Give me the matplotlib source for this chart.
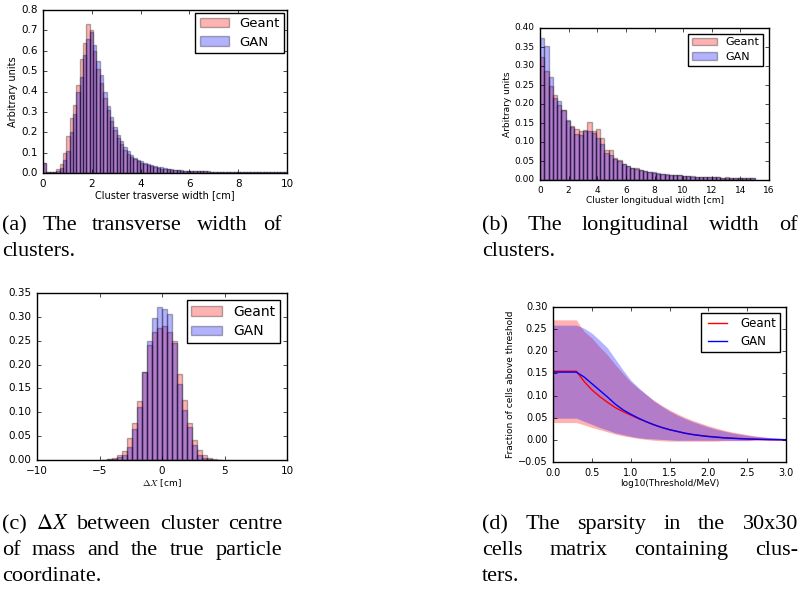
import numpy as np
import matplotlib
matplotlib.use('Agg')
from matplotlib import pyplot as plt

# (a) transverse width, 73 bins over 0-10 cm
trans_edges = np.linspace(0, 10, 74)
trans_geant = [0.05, 0.004, 0.004, 0.005, 0.02, 0.045, 0.10, 0.18, 0.27, 0.335,
               0.43, 0.56, 0.64, 0.73, 0.70, 0.60, 0.51, 0.44, 0.37, 0.31,
               0.255, 0.21, 0.17, 0.14, 0.115, 0.095, 0.08, 0.068, 0.057, 0.048,
               0.042, 0.037, 0.033, 0.028, 0.025, 0.022, 0.02, 0.018, 0.016, 0.015,
               0.013, 0.012, 0.011, 0.010, 0.009, 0.009, 0.008, 0.008, 0.008, 0.007,
               0.007, 0.007, 0.007, 0.006, 0.006, 0.006, 0.006, 0.006, 0.005, 0.006,
               0.005, 0.005, 0.005, 0.005, 0.005, 0.004, 0.005, 0.004, 0.004, 0.004,
               0.004, 0.004, 0.004]
trans_gan = [0.05, 0.003, 0.003, 0.004, 0.01, 0.025, 0.065, 0.11, 0.20, 0.29,
             0.40, 0.47, 0.58, 0.66, 0.69, 0.63, 0.55, 0.48, 0.40, 0.33,
             0.275, 0.225, 0.185, 0.155, 0.13, 0.11, 0.09, 0.075, 0.065, 0.058,
             0.05, 0.045, 0.04, 0.035, 0.03, 0.028, 0.024, 0.022, 0.02, 0.017,
             0.015, 0.013, 0.012, 0.011, 0.01, 0.009, 0.009, 0.008, 0.008, 0.008,
             0.007, 0.007, 0.006, 0.007, 0.006, 0.006, 0.005, 0.006, 0.005, 0.005,
             0.005, 0.005, 0.004, 0.005, 0.004, 0.004, 0.004, 0.004, 0.004, 0.003,
             0.004, 0.003, 0.003]

# (b) longitudinal width, 50 bins over 0-15 cm
long_edges = np.linspace(0, 15, 51)
long_geant = [0.325, 0.287, 0.248, 0.225, 0.198, 0.185, 0.155, 0.142, 0.135, 0.128,
              0.132, 0.152, 0.13, 0.135, 0.11, 0.08, 0.078, 0.057, 0.052, 0.043,
              0.037, 0.031, 0.031, 0.027, 0.025, 0.022, 0.019, 0.017, 0.016, 0.014,
              0.013, 0.014, 0.013, 0.010, 0.010, 0.009, 0.009, 0.008, 0.007, 0.007,
              0.008, 0.007, 0.006, 0.007, 0.006, 0.005, 0.006, 0.005, 0.005, 0.004]
long_gan = [0.375, 0.352, 0.27, 0.215, 0.208, 0.185, 0.158, 0.14, 0.12, 0.118,
            0.13, 0.128, 0.125, 0.11, 0.095, 0.072, 0.065, 0.055, 0.05, 0.042,
            0.037, 0.032, 0.03, 0.027, 0.025, 0.022, 0.02, 0.018, 0.016, 0.015,
            0.013, 0.013, 0.012, 0.011, 0.01, 0.01, 0.009, 0.008, 0.008, 0.007,
            0.007, 0.007, 0.006, 0.006, 0.006, 0.005, 0.005, 0.005, 0.005, 0.004]

# (c) delta X, bins of 0.4 cm over -4.8..4.8
dx_edges = np.linspace(-4.8, 4.8, 25)
dx_geant = [0.001, 0.002, 0.004, 0.011, 0.019, 0.047, 0.078, 0.124, 0.185, 0.241,
            0.269, 0.276, 0.281, 0.269, 0.25, 0.18, 0.126, 0.078, 0.042, 0.022,
            0.01, 0.004, 0.002, 0.001]
dx_gan = [0.0005, 0.002, 0.003, 0.006, 0.01, 0.028, 0.066, 0.112, 0.185, 0.25,
          0.297, 0.32, 0.316, 0.307, 0.246, 0.16, 0.105, 0.07, 0.031, 0.01,
          0.004, 0.002, 0.001, 0.0005]

# (d) sparsity vs threshold
thr = np.round(np.arange(0, 3.01, 0.1), 1)
sp_geant = [0.155, 0.155, 0.155, 0.155, 0.132, 0.113, 0.098, 0.085, 0.073, 0.064,
            0.056, 0.048, 0.041, 0.034, 0.028, 0.023, 0.019, 0.015, 0.012, 0.010,
            0.008, 0.0065, 0.005, 0.004, 0.003, 0.0022, 0.0016, 0.0011, 0.0007, 0.0004,
            0.0002]
sp_geant_hi = [0.271, 0.271, 0.271, 0.271, 0.245, 0.23, 0.21, 0.192, 0.17, 0.15,
               0.131, 0.116, 0.102, 0.089, 0.078, 0.068, 0.059, 0.051, 0.044, 0.038,
               0.032, 0.027, 0.022, 0.018, 0.015, 0.012, 0.009, 0.007, 0.005, 0.004,
               0.003]
sp_geant_lo = [0.039, 0.039, 0.039, 0.039, 0.034, 0.028, 0.023, 0.018, 0.013, 0.009,
               0.006, 0.003, 0.001, -0.001, -0.002, -0.003, -0.003, -0.003, -0.003, -0.003,
               -0.003, -0.003, -0.002, -0.002, -0.002, -0.002, -0.001, -0.001, -0.001, -0.001,
               -0.001]
sp_gan = [0.153, 0.153, 0.153, 0.153, 0.142, 0.127, 0.112, 0.097, 0.081, 0.068,
          0.058, 0.049, 0.041, 0.034, 0.028, 0.023, 0.019, 0.015, 0.012, 0.0095,
          0.0075, 0.006, 0.0045, 0.0035, 0.0027, 0.002, 0.0015, 0.001, 0.0006, 0.0004,
          0.0002]
sp_gan_hi = [0.259, 0.259, 0.259, 0.259, 0.252, 0.241, 0.225, 0.208, 0.183, 0.158,
             0.135, 0.118, 0.103, 0.088, 0.076, 0.065, 0.056, 0.048, 0.041, 0.035,
             0.029, 0.024, 0.02, 0.016, 0.013, 0.01, 0.008, 0.006, 0.005, 0.004,
             0.003]
sp_gan_lo = [0.049, 0.049, 0.049, 0.049, 0.042, 0.035, 0.028, 0.022, 0.016, 0.012,
             0.008, 0.005, 0.003, 0.002, 0.001, 0.0, -0.001, -0.001, -0.001, -0.001,
             -0.001, -0.001, -0.001, -0.001, -0.001, -0.001, 0.0, 0.0, 0.0, 0.0,
             0.0]

captions = {
    'a': [(['(a)', 'The', 'transverse', 'width', 'of'], True), (['clusters.'], False)],
    'b': [(['(b)', 'The', 'longitudinal', 'width', 'of'], True), (['clusters.'], False)],
    'c': [(['(c)', r'$\Delta X$', 'between', 'cluster', 'centre'], True),
          (['of', 'mass', 'and', 'the', 'true', 'particle'], True),
          (['coordinate.'], False)],
    'd': [(['(d)', 'The', 'sparsity', 'in', 'the', '30x30'], True),
          (['cells', 'matrix', 'containing', 'clus-'], True),
          (['ters.'], False)],
}

W, H = 801, 593
plt.style.use('classic')
plt.rcParams['figure.facecolor'] = 'white'
plt.rcParams['savefig.facecolor'] = 'white'

fig = plt.figure(figsize=(W / 100, H / 100), dpi=100)


def add_axes_px(left, right, top, bottom):
    return fig.add_axes([left / W, 1 - bottom / H, (right - left) / W, (bottom - top) / H])


def draw_hist(ax, edges, geant, gan):
    widths = np.diff(edges)
    ax.bar(edges[:-1], geant, width=widths, align='edge', color='r', alpha=0.3,
           edgecolor='k', linewidth=1, label='Geant')
    ax.bar(edges[:-1], gan, width=widths, align='edge', color='b', alpha=0.3,
           edgecolor='k', linewidth=1, label='GAN')


def style_axes(ax, tick_size, label_size, legend_size, pad=0.5):
    ax.tick_params(labelsize=tick_size, length=3)
    ax.xaxis.label.set_size(label_size)
    ax.yaxis.label.set_size(label_size)
    leg = ax.legend(loc='upper right', fontsize=legend_size, fancybox=False,
                    handlelength=2.2, borderpad=0.35, labelspacing=0.4,
                    borderaxespad=pad)
    leg.get_frame().set_linewidth(1)


# (a)
ax = add_axes_px(43, 287, 10, 173)
draw_hist(ax, trans_edges, trans_geant, trans_gan)
ax.set_xlim(0, 10)
ax.set_ylim(0, 0.8)
ax.set_yticks(np.arange(0, 0.81, 0.1))
ax.set_xlabel('Cluster trasverse width [cm]', labelpad=1)
ax.set_ylabel('Arbitrary units', labelpad=2)
style_axes(ax, 7.5, 7, 9.5, pad=0.2)

# (b)
ax = add_axes_px(540, 769, 28, 180)
draw_hist(ax, long_edges, long_geant, long_gan)
ax.set_xlim(0, 16)
ax.set_ylim(0, 0.4)
ax.set_yticks(np.arange(0, 0.401, 0.05))
ax.set_xlabel('Cluster longitudual width [cm]', labelpad=1)
ax.set_ylabel('Arbitrary units', labelpad=2)
style_axes(ax, 6.5, 6.5, 8)

# (c)
ax = add_axes_px(37, 287, 293, 460)
draw_hist(ax, dx_edges, dx_geant, dx_gan)
ax.set_xlim(-10, 10)
ax.set_ylim(0, 0.35)
ax.set_yticks(np.arange(0, 0.351, 0.05))
ax.set_xlabel(r'$\Delta X$ [cm]', labelpad=1)
style_axes(ax, 7.5, 6.5, 10)

# (d)
ax = add_axes_px(553, 786, 307, 462)
ax.fill_between(thr, sp_geant_lo, sp_geant_hi, color='r', alpha=0.3, linewidth=0)
ax.fill_between(thr, sp_gan_lo, sp_gan_hi, color='b', alpha=0.3, linewidth=0)
ax.plot(thr, sp_geant, color='r', linewidth=1, label='Geant')
ax.plot(thr, sp_gan, color='b', linewidth=1, label='GAN')
ax.set_xlim(0, 3)
ax.set_ylim(-0.05, 0.3)
ax.set_yticks(np.arange(-0.05, 0.301, 0.05))
ax.set_xlabel('log10(Threshold/MeV)', labelpad=1)
ax.set_ylabel('Fraction of cells above threshold', labelpad=2)
style_axes(ax, 7, 6.5, 8.5)

# captions, justified like the paper layout
renderer = fig.canvas.get_renderer()
cap_font = dict(family='Liberation Serif', size=16, math_fontfamily='stix', va='baseline')
cap_pos = {'a': (2, 282, 230), 'b': (482, 798, 230), 'c': (2, 282, 529), 'd': (482, 798, 529)}
line_step = 25.8
for key, lines in captions.items():
    x0, x1, y0 = cap_pos[key]
    for k, (words, justify) in enumerate(lines):
        y = 1 - (y0 + k * line_step) / H
        texts = [fig.text(0, y, w, **cap_font) for w in words]
        widths = [t.get_window_extent(renderer).width for t in texts]
        if justify and len(words) > 1:
            gap = (x1 - x0 - sum(widths)) / (len(words) - 1)
        else:
            gap = 5.5
        x = x0
        for t, w in zip(texts, widths):
            t.set_x(x / W)
            x += w + gap

fig.savefig('out.png', dpi=100)
